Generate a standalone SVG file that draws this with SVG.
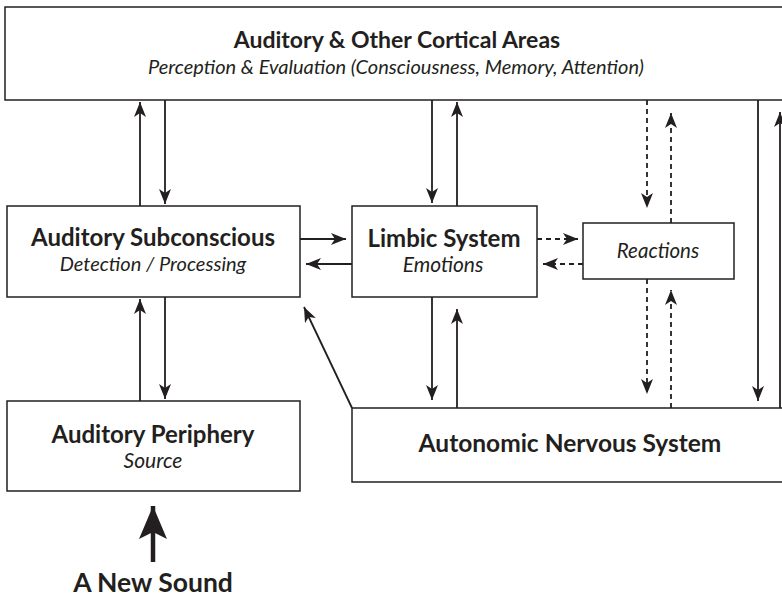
<svg xmlns="http://www.w3.org/2000/svg" width="782" height="597" viewBox="0 0 782 597">
<style>
.box{fill:#fff;stroke:#231f20;stroke-width:1.5}
.b{font-family:Lato,"Open Sans",sans-serif;font-weight:bold;fill:#231f20;text-anchor:middle}
.i{font-family:Lato,"Open Sans",sans-serif;font-style:italic;fill:#231f20;text-anchor:middle}
.ln{stroke:#231f20;stroke-width:1.8;fill:none;marker-end:url(#ah)}
.dl{stroke:#231f20;stroke-width:1.8;fill:none;stroke-dasharray:5 4;marker-end:url(#ah)}
</style>
<defs>
<marker id="ah" markerUnits="userSpaceOnUse" markerWidth="16" markerHeight="14" viewBox="0 0 16 14" refX="15" refY="7" orient="auto">
<path d="M0,1 L15,7 L0,13 L4,7 z" fill="#231f20"/>
</marker>
<marker id="big" markerUnits="userSpaceOnUse" markerWidth="34" markerHeight="30" viewBox="0 0 34 30" refX="33" refY="15" orient="auto">
<path d="M0,1 L33,15 L0,29 L7,15 z" fill="#231f20"/>
</marker>
</defs>
<g id="cortical">
<rect class="box" x="5" y="7" width="790" height="93"/>
<text class="b" x="397" y="48" font-size="23">Auditory &amp; Other Cortical Areas</text>
<text class="i" x="396" y="74" font-size="20">Perception &amp; Evaluation (Consciousness, Memory, Attention)</text>
</g>
<g id="subconscious">
<rect class="box" x="7" y="206" width="293" height="91"/>
<text class="b" x="153" y="246" font-size="24">Auditory Subconscious</text>
<text class="i" x="153" y="271" font-size="20">Detection / Processing</text>
</g>
<g id="limbic">
<rect class="box" x="352" y="206" width="185" height="91"/>
<text class="b" x="444" y="247" font-size="24">Limbic System</text>
<text class="i" x="443" y="272" font-size="21">Emotions</text>
</g>
<g id="reactions">
<rect class="box" x="583" y="223" width="151" height="56"/>
<text class="i" x="658" y="258" font-size="20.5">Reactions</text>
</g>
<g id="periphery">
<rect class="box" x="7" y="401" width="293" height="90"/>
<text class="b" x="153" y="443" font-size="24">Auditory Periphery</text>
<text class="i" x="153" y="468" font-size="21">Source</text>
</g>
<g id="autonomic">
<rect class="box" x="352" y="408" width="440" height="74"/>
<text class="b" x="570" y="452" font-size="24.5">Autonomic Nervous System</text>
</g>
<g id="newsound">
<text class="b" x="153" y="592" font-size="26.5">A New Sound</text>
</g>
<g id="connectors">
<line class="ln" x1="140" y1="206" x2="140" y2="102"/>
<line class="ln" x1="165" y1="100" x2="165" y2="204"/>
<line class="ln" x1="140" y1="401" x2="140" y2="299"/>
<line class="ln" x1="165" y1="297" x2="165" y2="399"/>
<line class="ln" x1="300" y1="239" x2="346" y2="239"/>
<line class="ln" x1="352" y1="264" x2="306" y2="264"/>
<line class="ln" x1="432" y1="100" x2="432" y2="203"/>
<line class="ln" x1="457" y1="206" x2="457" y2="102"/>
<line class="ln" x1="432" y1="297" x2="432" y2="400"/>
<line class="ln" x1="457" y1="408" x2="457" y2="309"/>
<line class="dl" x1="537" y1="239" x2="578" y2="239"/>
<line class="dl" x1="583" y1="264" x2="543" y2="264"/>
<line class="dl" x1="647" y1="100" x2="647" y2="208"/>
<line class="dl" x1="671" y1="223" x2="671" y2="113"/>
<line class="dl" x1="647" y1="279" x2="647" y2="394"/>
<line class="dl" x1="671" y1="408" x2="671" y2="290"/>
<line class="ln" x1="758" y1="100" x2="758" y2="401"/>
<line class="ln" x1="780" y1="408" x2="780" y2="112"/>
<line class="ln" x1="352" y1="408" x2="304" y2="307"/>
<line stroke="#231f20" stroke-width="4.5" x1="153" y1="562" x2="153" y2="506" marker-end="url(#big)"/>
</g>
</svg>
